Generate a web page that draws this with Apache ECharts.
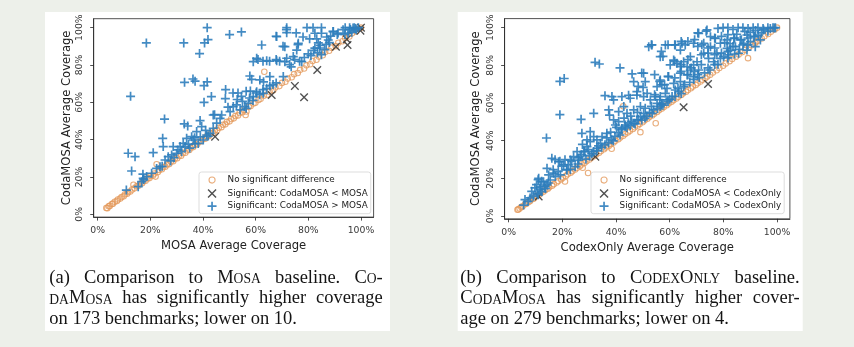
<!DOCTYPE html>
<html>
<head>
<meta charset="utf-8">
<script src="https://cdn.jsdelivr.net/npm/echarts@6/dist/echarts.min.js"></script>
<style>
  html, body { margin: 0; padding: 0; background: #edf0ea; }
  #chart { width: 854px; height: 347px; }
</style>
</head>
<body>
<div id="chart"></div>
<script>
// ---- tick positions (percent) ----
const tickValues = [0, 20, 40, 60, 80, 100];

// ---- (a) CodaMOSA vs MOSA: [MOSA %, CodaMOSA %] ----
const mosaNoSig = [
  [3.3,3.4],[3.7,3.3],[4.2,4.3],[4.6,4.5],[5.4,5.5],[5.8,5.7],[6.5,6.7],[7.3,7.1],[7.7,7.9],[8.6,8.4],
  [9.1,9.3],[9.9,9.7],[10.4,10.7],[11.2,11.0],[11.6,11.9],[12.4,12.2],[13.1,13.3],[13.6,15.8],[14.0,13.9],
  [14.8,15.0],[15.5,15.3],[16.1,16.4],[16.9,16.7],[17.4,17.7],[18.2,18.0],[18.9,19.2],[19.7,19.4],[20.1,20.5],
  [21.0,20.8],[21.6,21.9],[22.0,20.2],[22.4,26.8],[22.9,22.7],[23.4,23.8],[24.4,24.1],[24.9,25.3],[25.7,25.5],
  [26.3,26.7],[27.2,26.9],[27.8,28.2],[28.7,28.4],[29.3,29.7],[30.2,30.0],[30.8,31.2],[31.7,31.4],[32.3,32.7],
  [33.3,33.0],[33.8,34.2],[34.8,34.5],[35.3,35.7],[36.3,36.0],[36.8,37.2],[37.8,37.5],[38.3,38.7],[39.3,39.1],
  [39.8,40.3],[40.8,40.5],[41.4,41.8],[42.3,42.0],[42.9,43.3],[43.9,43.6],[44.5,44.9],[45.4,45.1],[46.0,46.4],
  [47.0,46.7],[47.6,48.0],[48.5,48.2],[49.1,49.5],[50.1,49.8],[50.7,51.1],[51.7,51.4],[52.3,52.7],[53.3,53.0],
  [53.9,54.3],[55.0,54.7],[55.5,56.0],[56.2,53.2],[56.5,55.1],[57.4,57.6],[58.1,58.0],[59.2,59.4],[59.9,59.8],
  [61.1,61.3],[61.9,61.9],[63.3,76.4],[63.1,63.5],[64.4,64.1],[65.3,65.7],[66.7,66.4],[67.5,68.0],[69.0,68.7],
  [70.0,70.4],[71.3,71.0],[72.2,72.7],[73.7,73.4],[74.6,75.1],[76.0,75.7],[76.9,77.4],[78.4,78.1],[79.3,79.8],
  [80.7,80.4],[81.6,82.1],[83.1,82.8],[84.0,84.5],[85.5,85.2],[86.4,86.9],[87.9,87.6],[88.8,89.3],[90.4,90.1],
  [91.4,91.9],[93.0,92.7],[94.0,94.5],[95.6,95.3],[96.6,97.0],[98.2,98.0],[99.2,99.4],[100,100]
];
const mosaLower = [
  [44.6,41.6],[66.1,63.9],[74.9,68.8],[78.4,62.7],[83.4,77.3],[90.5,89.8],[94.9,90.7],[94.6,93.8],[99.8,98.4],[100,100]
];
const mosaHigher = [
  [18.5,91.8],[32.7,91.8],[40.6,91.8],[41.9,93.6],[41.6,100],[38.7,86.1],[50.1,96.3],[54.6,97.7],[12.5,63.2],
  [33.0,70.7],[36.2,72.5],[37.0,71.3],[40.4,68.9],[41.6,70.9],[43.2,63.1],[48.6,66.8],[40.4,60.0],[48.5,62.0],
  [49.5,57.4],[44.4,53.4],[25.4,51.0],[38.9,50.2],
  [32.9,48.4],[34.2,47.3],[39.5,47.0],[37.6,44.3],[35.7,41.6],[36.3,39.8],[38.2,38.0],[40.1,39.8],[41.4,42.5],
  [42.7,43.4],[43.9,46.1],[45.2,48.8],[46.5,51.4],[43.9,53.2],[47.1,53.2],[50.3,55.0],[51.5,57.7],[54.1,55.9],
  [55.9,57.7],[57.2,59.5],[33.8,40.7],[33.2,36.3],[31.3,36.3],[28.7,36.3],[31.9,33.6],[30.0,32.7],[28.1,31.8],
  [26.8,30.9],[24.9,36.3],[24.7,40.7],[25.6,29.1],[23.7,25.5],[22.4,24.6],[21.1,33.0],[20.5,22.0],[18.6,20.2],
  [17.3,19.3],[16.7,17.5],[15.4,14.8],[10.9,13.0],[11.6,32.7],[14.2,30.9],[12.9,23.2],[17.2,21.5],[17.5,18.6],
  [27.7,28.6],[29.0,30.3],[24.5,25.7],[34.5,37.5],[35.0,35.5],[36.8,41.0],[39.0,41.5],[37.0,37.8],[41.0,45.0],
  [42.0,41.9],[30.5,34.5],[32.5,38.0],
  [59.1,63.0],[60.4,65.7],[62.9,64.8],[64.2,67.5],[65.4,68.8],[61.6,72.0],[57.8,74.1],[58.5,72.3],[65.4,73.8],
  [70.5,73.8],[59.1,81.8],[60.4,83.6],[64.2,82.3],[68.0,82.3],[71.1,81.8],[71.8,83.6],[74.3,84.5],[77.5,81.8],
  [62.3,90.7],[68.0,95.2],[71.8,100],[71.8,97.3],[76.2,91.6],[71.1,89.8],[75.6,88.0],[70.4,90.0],[76.1,90.9],
  [84.3,89.1],[86.2,88.2],[83.5,86.5],[82.5,89.0],[85.0,85.5],[87.6,93.4],[67.8,95.4],[75.4,97.2],[71.7,99.0],
  [51.4,65.0],[53.3,65.0],[54.6,63.2],[56.4,65.9],[57.7,62.3],[52.7,58.6],[56.4,56.8],[60.2,65.0],[61.5,64.1],
  [62.8,66.8],[66.6,69.5],[67.8,70.4],[63.0,71.0],[58.0,66.0],[53.0,61.5],[55.0,60.5],[59.0,61.0],
  [60.9,82.9],[62.8,82.0],[65.3,82.0],[67.8,82.9],[69.1,82.0],[72.9,80.2],[74.8,82.9],[76.7,82.0],[73.5,79.0],
  [78.5,84.0],[80.0,86.0],
  [81.8,100],[85.0,100],[82.5,97.0],[85.0,97.0],[80.5,94.0],[83.2,94.0],[89.4,98.0],[91.3,97.1],[93.2,98.9],
  [95.7,100],[97.0,99.8],[95.1,97.1],[97.5,100],[99.0,100],[98.0,99.5],[89.5,97.9],[91.0,96.4],[93.9,96.4],
  [96.5,97.5],[98.2,98.9],[96.0,99.0],[94.0,100],[86.8,91.0],[88.0,92.0],[82.0,87.8],[84.5,90.5],[87.0,95.0],
  [79.5,100],[78.0,95.0],[88.5,95.5],[83.8,91.8],[81.0,85.0]
];

// ---- (b) CodaMOSA vs CodexOnly: [CodexOnly %, CodaMOSA %] ----
const codexNoSig = [
  [3.3,3.3],[3.6,3.5],[4.1,4.0],[4.7,4.8],[5.2,5.1],[6.1,6.2],[6.6,6.5],[7.5,7.6],[8.0,7.9],[9.0,9.1],
  [9.4,9.3],[10.4,10.5],[11.3,11.2],[11.9,12.0],[12.9,12.8],[13.6,13.7],[14.6,14.5],[15.1,15.2],[16.2,16.1],
  [16.8,16.9],[17.9,17.8],[18.5,18.6],[19.6,19.5],[20.2,20.3],[21.0,18.3],[21.3,21.2],[22.0,22.1],[23.1,23.0],
  [23.7,23.8],[24.8,24.7],[25.5,25.6],[26.5,26.4],[27.2,27.3],[27.6,25.6],[28.3,28.2],[29.0,29.1],[29.6,22.8],
  [30.1,30.0],[30.8,30.9],[31.9,31.8],[32.6,32.7],[33.7,33.6],[34.4,34.5],[35.5,35.4],[36.2,36.3],[37.3,37.2],
  [38.0,38.1],[38.4,35.7],[39.1,39.0],[39.8,39.9],[40.9,40.8],[41.6,41.7],[42.7,42.6],[42.7,58.3],[43.4,43.5],
  [44.5,44.4],[45.2,45.3],[46.3,46.2],[47.0,47.1],[48.1,48.0],[48.8,48.9],[49.1,44.5],[49.9,49.8],[50.6,50.7],
  [51.7,51.6],[52.4,52.5],[53.5,53.4],[54.2,54.3],[54.8,49.2],[55.3,55.2],[56.0,56.1],[57.1,57.0],[57.8,57.9],
  [58.9,58.8],[59.6,59.7],[60.7,60.6],[61.4,61.5],[62.5,62.4],[63.2,63.3],[64.3,64.2],[65.0,65.1],[66.1,66.0],
  [66.8,66.9],[67.9,67.8],[68.6,68.7],[69.7,69.6],[70.4,70.5],[71.5,71.4],[72.2,72.3],[73.3,73.2],[74.0,74.1],
  [75.1,75.0],[76.1,76.2],[77.5,77.4],[78.5,78.6],[79.9,79.8],[80.9,81.0],[82.3,82.2],[83.3,83.4],[84.7,84.6],
  [85.7,85.8],[87.1,87.0],[88.1,88.2],[89.2,83.8],[89.5,89.4],[90.5,90.6],[91.9,91.8],[92.3,92.6],[92.9,93.0],
  [94.3,94.2],[95.3,95.4],[96.7,96.6],[97.7,97.8],[99.1,99.0],[100,100]
];
const codexLower = [[11.2,10.3],[32.3,31.5],[65.2,57.7],[74.3,70.1]];
const codexHigher = [
  [5.6,5.8],[6.1,8.7],[7.3,7.8],[8.0,9.6],[9.2,10.5],[8.6,13.1],[9.8,14.9],[10.4,16.6],[11.0,11.3],[11.7,14.0],
  [10.6,12.0],[12.4,12.9],[11.0,19.3],[11.2,20.0],[12.3,18.4],[13.0,18.2],[13.5,15.7],[14.3,16.5],[14.8,17.5],
  [15.5,19.1],[16.8,22.7],[16.1,30.6],[18.6,28.8],[20.5,27.1],[21.7,24.4],[23.0,24.7],[17.4,20.9],[19.3,21.8],
  [14.3,25.3],[14.9,21.8],[11.8,15.6],[13.7,14.6],[17.3,29.9],[19.1,29.0],[21.0,29.9],[22.2,27.3],[23.5,29.0],
  [19.8,26.4],[21.6,24.6],[16.6,24.6],[18.5,23.7],[24.8,26.2],[14.1,41.4],[19.1,53.8],[19.1,71.5],[20.7,73.0],
  [26.1,29.7],[26.7,31.5],[28.0,34.2],[29.2,36.8],[30.4,39.5],[31.7,42.1],[27.3,43.9],[30.4,44.8],[29.2,40.4],
  [32.9,40.4],[34.2,38.6],[34.8,42.1],[31.7,34.2],[32.9,35.9],[25.5,34.2],[24.2,31.5],[23.0,29.7],[27.2,32.5],
  [28.4,34.3],[29.7,35.2],[26.0,30.8],[31.0,33.0],[32.8,34.6],[34.7,36.5],[27.0,51.3],[31.7,54.5],[32.2,81.6],
  [33.8,80.7],[27.5,38.0],[25.8,27.6],[28.8,30.2],[30.2,31.9],[33.5,37.2],
  [35.9,37.8],[37.2,38.8],[38.4,40.5],[39.6,42.3],[40.9,44.1],[42.1,45.8],[43.4,47.6],[44.6,49.4],[45.8,50.3],
  [47.1,48.9],[48.3,51.2],[49.6,50.9],[50.8,52.0],[36.6,43.9],[41.5,78.6],[37.3,56.3],[37.6,53.6],[39.1,51.0],
  [39.8,48.3],[41.0,50.1],[42.2,46.5],[43.5,48.3],[44.1,46.8],[45.3,48.0],[46.6,49.2],[47.8,51.0],[49.1,52.7],
  [50.3,54.5],[50.9,57.2],[49.1,58.1],[46.6,56.3],[44.1,54.5],[42.9,58.1],[41.0,55.4],[39.1,61.6],[38.5,63.4],
  [42.2,63.4],[45.3,62.5],[47.8,64.2],[50.3,63.4],[46.6,71.3],[46.0,75.4],[50.3,75.8],[50.9,71.3],[50.1,68.3],
  [47.8,66.0],[35.9,63.9],[44.7,64.1],[49.6,75.9],[48.3,68.8],[36.5,41.5],[38.0,44.5],[40.2,47.0],[43.0,52.0],
  [45.5,53.0],[48.0,55.0],[39.0,39.9],[41.5,43.0],
  [51.6,65.1],[52.8,61.6],[54.7,63.4],[55.3,59.8],[56.5,58.1],[54.0,56.3],[52.2,89.9],[53.4,90.8],[56.5,84.6],
  [58.4,90.8],[62.1,90.8],[64.6,91.7],[64.0,88.1],[60.2,80.2],[55.3,68.7],[57.1,69.6],[56.5,72.2],[59.0,67.8],
  [59.6,74.0],[61.5,70.4],[64.0,71.3],[65.2,68.7],[62.1,66.9],[63.4,66.0],[58.4,65.1],[56.5,63.4],[60.9,63.4],
  [59.0,61.6],[57.1,59.8],[54.4,75.0],[56.3,71.5],[58.1,69.7],[59.4,74.1],[61.9,73.3],[63.1,67.9],[64.3,65.0],
  [59.4,60.8],[56.9,59.1],[54.4,64.4],[53.2,58.2],[56.3,61.7],[53.2,90.9],[56.9,87.4],[57.5,84.7],[59.4,90.9],
  [61.9,90.9],[64.3,92.7],[61.5,82.8],[62.7,81.1],[64.0,79.3],[64.0,75.8],[61.9,82.1],[64.3,80.4],[64.3,76.8],
  [51.5,53.0],[52.5,55.0],[53.5,54.5],[55.5,57.0],[57.5,58.8],[60.0,62.0],[62.0,63.5],
  [65.8,90.8],[68.9,91.7],[66.8,92.7],[69.3,93.6],[70.5,97.2],[73.6,98.1],[70.8,97.0],[73.9,98.8],[72.7,91.7],
  [75.2,95.2],[75.2,89.9],[72.7,86.4],[74.5,83.7],[76.4,81.9],[77.6,86.4],[78.9,83.7],[65.2,81.9],[66.5,79.3],
  [67.7,77.5],[68.9,80.2],[70.2,81.9],[70.8,77.5],[66.5,74.9],[68.9,74.0],[67.7,84.6],[66.8,83.0],[68.0,78.6],
  [66.8,75.0],[69.3,76.8],[71.8,80.4],[74.3,78.6],[76.8,80.4],[71.8,85.6],[74.3,86.5],[76.8,85.6],[79.3,86.5],
  [74.3,89.2],[76.8,89.2],[78.0,99.6],[79.9,100],[76.8,94.5],[79.3,95.4],[77.0,94.3],[78.9,91.7],[70.5,90.0],
  [72.0,90.9],[65.6,69.7],[67.5,71.0],[69.0,72.5],[71.0,73.5],[73.0,76.0],[75.0,77.5],[78.0,80.5],[70.5,75.0],
  [81.7,96.3],[84.2,94.5],[86.7,93.6],[89.2,94.5],[91.7,95.4],[94.2,97.2],[96.6,98.1],[81.7,100],[83.6,99.0],
  [85.5,100],[87.3,100],[89.2,99.6],[91.1,100],[92.9,100],[94.8,99.5],[96.6,100],[98.5,100],[99.4,100],
  [80.1,84.6],[82.6,88.1],[85.7,86.4],[88.8,88.1],[91.9,89.9],[93.8,93.5],[81.4,93.5],[83.9,94.3],[86.3,93.5],
  [88.8,96.1],[91.3,95.2],[87.6,91.7],[90.1,92.6],[84.5,89.9],[81.4,89.0],[81.7,87.4],[84.2,86.0],[81.7,83.9],
  [83.6,90.0],[87.3,90.9],[89.2,90.9],[86.0,88.5],[95.0,98.8],[97.5,99.6],[99.0,99.8],[93.0,96.0],[90.0,97.5],
  [92.0,98.5],[85.0,96.5],[82.5,91.5],[88.0,98.0],[80.5,92.0],[82.0,85.5]
];

// ---- caption text; `...` marks small-caps words ----
const captionA = [
  '(a) Comparison to `Mosa` baseline. `Co-`',
  '`daMosa` has significantly higher coverage',
  'on 173 benchmarks; lower on 10.'
];
const captionB = [
  '(b) Comparison to `CodexOnly` baseline.',
  '`CodaMosa` has significantly higher cover-',
  'age on 279 benchmarks; lower on 4.'
];

// ---- styling ----
const BLUE = '#2f7ebd', ORANGE = '#e39a5c', DARK = '#333333';
const SANS = '"DejaVu Sans", sans-serif';
const SERIF = '"Liberation Serif", "Times New Roman", serif';
const PLUS = 'path://M-0.85,-4.5L0.85,-4.5L0.85,-0.85L4.5,-0.85L4.5,0.85L0.85,0.85L0.85,4.5L-0.85,4.5L-0.85,0.85L-4.5,0.85L-4.5,-0.85L-0.85,-0.85Z';
const CROSS = 'path://M-4,-3.1L-3.1,-4L0,-0.9L3.1,-4L4,-3.1L0.9,0L4,3.1L3.1,4L0,0.9L-3.1,4L-4,3.1L-0.9,0Z';
const RING = 'path://M-4,-4L-4,-4M4,4L4,4M2.7,0A2.7,2.7,0,1,1,-2.7,0A2.7,2.7,0,1,1,2.7,0Z';

// ---- justified caption layout (text measured with canvas) ----
const measure = document.createElement('canvas').getContext('2d');
const CAP = 18.5, SC = 13.6;
function runsOf(word) {
  if (word[0] !== '`') return [[word, false]];
  const runs = [];
  for (const ch of word.slice(1, -1)) {
    const small = ch >= 'a' && ch <= 'z';
    const t = small ? ch.toUpperCase() : ch;
    if (runs.length && runs[runs.length - 1][1] === small) runs[runs.length - 1][0] += t;
    else runs.push([t, small]);
  }
  return runs;
}
function widthOf(text, small) {
  measure.font = (small ? SC : CAP) + 'px ' + SERIF;
  return measure.measureText(text).width;
}
function captionElements(lines, left, right, baselines) {
  const els = [];
  lines.forEach((line, li) => {
    const words = line.split(' ').map(runsOf);
    const widths = words.map(r => r.reduce((s, [t, sm]) => s + widthOf(t, sm), 0));
    const total = widths.reduce((a, b) => a + b, 0);
    const last = li === lines.length - 1;
    const gap = last ? CAP * 0.25 : (right - left - total) / (words.length - 1);
    let x = left;
    words.forEach(runs => {
      runs.forEach(([t, sm]) => {
        const fs = sm ? SC : CAP;
        els.push({
          type: 'text', x: x, y: baselines[li] - 0.305 * fs, z: 10,
          style: { text: t, font: fs + 'px ' + SERIF, fill: '#141414',
                   align: 'left', verticalAlign: 'middle', textAlign: 'left', textVerticalAlign: 'middle' }
        });
        x += widthOf(t, sm);
      });
      x += gap;
    });
  });
  return els;
}

// ---- axes ----
const pct = v => v + '%';
function xAxisFor(gi, name) {
  return {
    gridIndex: gi, type: 'value', min: -1.5, max: 104.8,
    name: name, nameLocation: 'middle', nameGap: 23,
    nameTextStyle: { fontFamily: SANS, fontSize: 11.6, color: '#222' },
    axisLine: { show: true, onZero: false, lineStyle: { color: '#262626', width: 0.8 } },
    axisTick: { show: true, customValues: tickValues, length: 3.5, lineStyle: { color: '#262626', width: 0.8 } },
    axisLabel: { customValues: tickValues, formatter: pct, fontFamily: SANS, fontSize: 9.3, color: '#3a3a3a', margin: 9 },
    splitLine: { show: false }
  };
}
function yAxisFor(gi, gap) {
  return {
    gridIndex: gi, type: 'value', min: -1.5, max: 104.8,
    name: 'CodaMOSA Average Coverage', nameLocation: 'middle', nameGap: gap,
    nameTextStyle: { fontFamily: SANS, fontSize: 11.6, color: '#222' },
    axisLine: { show: true, onZero: false, lineStyle: { color: '#262626', width: 0.8 } },
    axisTick: { show: true, customValues: tickValues, length: 3.5, lineStyle: { color: '#262626', width: 0.8 } },
    axisLabel: { customValues: tickValues, formatter: pct, rotate: 90, fontFamily: SANS, fontSize: 9.3, color: '#3a3a3a', margin: 10 },
    splitLine: { show: false }
  };
}

// ---- series ----
function circles(gi, data) {
  return { type: 'scatter', name: 'No significant difference', xAxisIndex: gi, yAxisIndex: gi, data: data,
           symbol: 'circle', symbolSize: 5.5, itemStyle: { color: 'rgba(0,0,0,0)', borderColor: ORANGE, borderWidth: 1.1 } };
}
function crosses(gi, name, data) {
  return { type: 'scatter', name: name, xAxisIndex: gi, yAxisIndex: gi, data: data,
           symbol: CROSS, symbolSize: 8.5, itemStyle: { color: DARK, opacity: 0.85 } };
}
function pluses(gi, name, data) {
  return { type: 'scatter', name: name, xAxisIndex: gi, yAxisIndex: gi, data: data,
           symbol: PLUS, symbolSize: 9, itemStyle: { color: BLUE, opacity: 0.9 } };
}
function legendFor(left, items) {
  return {
    orient: 'vertical', left: left, top: 172, itemWidth: 9, itemHeight: 9, itemGap: 3.8,
    padding: [3, 3, 3, 8], borderColor: '#d4d4d4', borderWidth: 0.8, borderRadius: 2.5,
    backgroundColor: 'rgba(255,255,255,0.85)', selectedMode: false,
    textStyle: { fontFamily: SANS, fontSize: 8.8, color: '#222', padding: [0, 0, 0, 6] },
    data: [
      { name: items[0], icon: RING, itemStyle: { color: 'rgba(0,0,0,0)', borderColor: ORANGE, borderWidth: 1.1 } },
      { name: items[1], icon: CROSS },
      { name: items[2], icon: PLUS }
    ]
  };
}

const chart = echarts.init(document.getElementById('chart'), null, { renderer: 'canvas' });
chart.setOption({
  backgroundColor: '#edf0ea',
  animation: false,
  grid: [
    { left: 93.7, top: 18.7, width: 279.9, height: 198.4, show: true, borderColor: '#262626', borderWidth: 0.8 },
    { left: 504.6, top: 18.6, width: 285.3, height: 200.2, show: true, borderColor: '#262626', borderWidth: 0.8 }
  ],
  xAxis: [xAxisFor(0, 'MOSA Average Coverage'), xAxisFor(1, 'CodexOnly Average Coverage')],
  yAxis: [yAxisFor(0, 21), yAxisFor(1, 22.5)],
  legend: [
    legendFor(199, ['No significant difference', 'Significant: CodaMOSA < MOSA', 'Significant: CodaMOSA > MOSA']),
    legendFor(591, ['No significant difference', 'Significant: CodaMOSA < CodexOnly', 'Significant: CodaMOSA > CodexOnly'])
  ],
  graphic: [
    { type: 'rect', z: -10, shape: { x: 45, y: 12, width: 345, height: 319 }, style: { fill: '#ffffff' } },
    { type: 'rect', z: -10, shape: { x: 457.7, y: 12, width: 345, height: 319 }, style: { fill: '#ffffff' } }
  ].concat(
    captionElements(captionA, 49.3, 382.7, [283.5, 304.2, 324.5]),
    captionElements(captionB, 460.3, 799.7, [283.5, 304.2, 324.5])
  ),
  series: [
    circles(0, mosaNoSig),
    crosses(0, 'Significant: CodaMOSA < MOSA', mosaLower),
    pluses(0, 'Significant: CodaMOSA > MOSA', mosaHigher),
    circles(1, codexNoSig),
    crosses(1, 'Significant: CodaMOSA < CodexOnly', codexLower),
    pluses(1, 'Significant: CodaMOSA > CodexOnly', codexHigher)
  ]
});
</script>
</body>
</html>
